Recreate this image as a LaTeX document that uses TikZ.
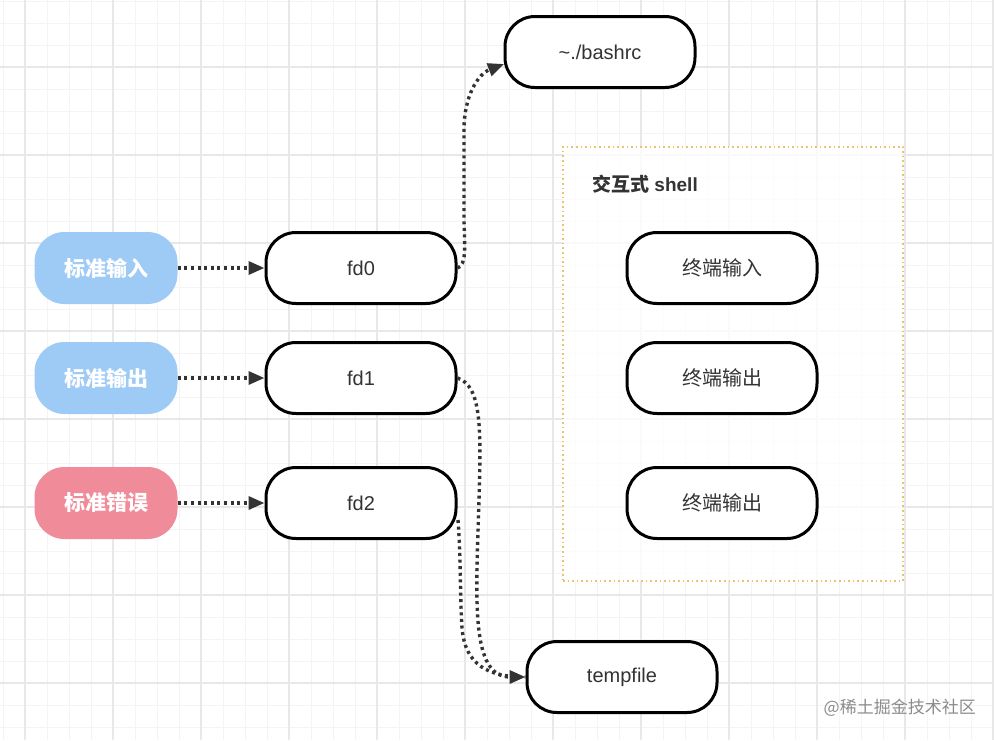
\documentclass[tikz,border=0pt]{standalone}
\usepackage{fontspec}
\setmainfont{Liberation Sans}
\newfontfamily\cjk{Noto Sans CJK SC}
\usetikzlibrary{arrows.meta}
\definecolor{gmajor}{HTML}{E8E8E8}
\definecolor{gminor}{HTML}{F4F4F4}
\definecolor{inblue}{HTML}{9ECAF6}
\definecolor{errpink}{HTML}{F08C99}
\definecolor{txt}{HTML}{333333}
\definecolor{boxdot}{HTML}{E9C46E}
\tikzset{
  pill/.style={draw=black, line width=3pt, rounded corners=30pt, minimum width=190pt, minimum height=71pt, fill=white, text=txt, font=\fontsize{20}{22}\selectfont, inner sep=0pt},
  srcpill/.style={rounded corners=30pt, minimum width=143pt, minimum height=72pt, text=white, font=\cjk\bfseries\fontsize{21}{23}\selectfont, inner sep=0pt},
  flow/.style={line width=3.4pt, color=txt, dash pattern=on 3pt off 3.6pt, -{Triangle[length=16pt,width=13pt]}},
  flowplain/.style={line width=3.4pt, color=txt, dash pattern=on 3pt off 3.6pt}
}
\begin{document}
\begin{tikzpicture}[x=1pt,y=-1pt]
\useasboundingbox (0,0) rectangle (994,740);
\fill[white] (0,0) rectangle (994,740);
% minor grid
\foreach \i in {0,...,45} {\draw[gminor, line width=0.7pt] (3+22*\i,0) -- (3+22*\i,740);}
\foreach \i in {0,...,34} {\draw[gminor, line width=0.7pt] (0,1+22*\i) -- (994,1+22*\i);}
% major grid
\foreach \i in {0,...,11} {\draw[gmajor, line width=1.2pt] (25+88*\i,0) -- (25+88*\i,740);}
\foreach \i in {0,...,7} {\draw[gmajor, line width=1.2pt] (0,67+88*\i) -- (994,67+88*\i);}

% interactive shell container
\node[draw=boxdot, line width=1.6pt, dash pattern=on 1.6pt off 3pt, fill=white, fill opacity=0.8, draw opacity=1, minimum width=340pt, minimum height=434pt, inner sep=0pt] (shellbox) at (733,364) {};
\node[anchor=west, text=txt, inner sep=0pt, font=\fontsize{19}{21}\selectfont] (shelltitle) at (592,184) {{\cjk\bfseries 交互式} \bfseries shell};

% source nodes
\node[srcpill, fill=inblue] (stdin) at (106,268) {标准输入};
\node[srcpill, fill=inblue] (stdout) at (106,378) {标准输出};
\node[srcpill, fill=errpink] (stderr) at (106,503) {标准错误};

% fd nodes
\node[pill] (fd0) at (361,268) {fd0};
\node[pill] (fd1) at (361,378) {fd1};
\node[pill] (fd2) at (361,503) {fd2};

% targets
\node[pill] (bashrc) at (600,52) {\textasciitilde./bashrc};
\node[pill] (tempfile) at (622,677) {tempfile};

% terminal nodes
\node[pill, font=\cjk\fontsize{20}{22}\selectfont] (tin) at (722,268) {终端输入};
\node[pill, font=\cjk\fontsize{20}{22}\selectfont] (tout1) at (722,378) {终端输出};
\node[pill, font=\cjk\fontsize{20}{22}\selectfont] (tout2) at (722,503) {终端输出};

% connectors
\draw[flow] (stdin.east) -- (fd0.west);
\draw[flow] (stdout.east) -- (fd1.west);
\draw[flow] (stderr.east) -- (fd2.west);

\coordinate (bin) at (504,64);
\draw[flow] (fd0.east) .. controls (466,265) and (465,250) .. (464,222) -- (464,130) .. controls (464,96) and (478,74) .. (bin);

\coordinate (fd2out) at (458,520);
\draw[flowplain] (fd2out) .. controls (461,560) and (460,600) .. (462,628) .. controls (465,665) and (488,677) .. (tempfile.west);
\draw[flow] (fd1.east) .. controls (482,386) and (481,430) .. (479,500) .. controls (476,600) and (470,677) .. (tempfile.west);

% watermark
\node[anchor=east, text=black!45, inner sep=0pt, font=\cjk\fontsize{17}{19}\selectfont] (wm) at (976,708) {@稀土掘金技术社区};
\end{tikzpicture}
\end{document}
